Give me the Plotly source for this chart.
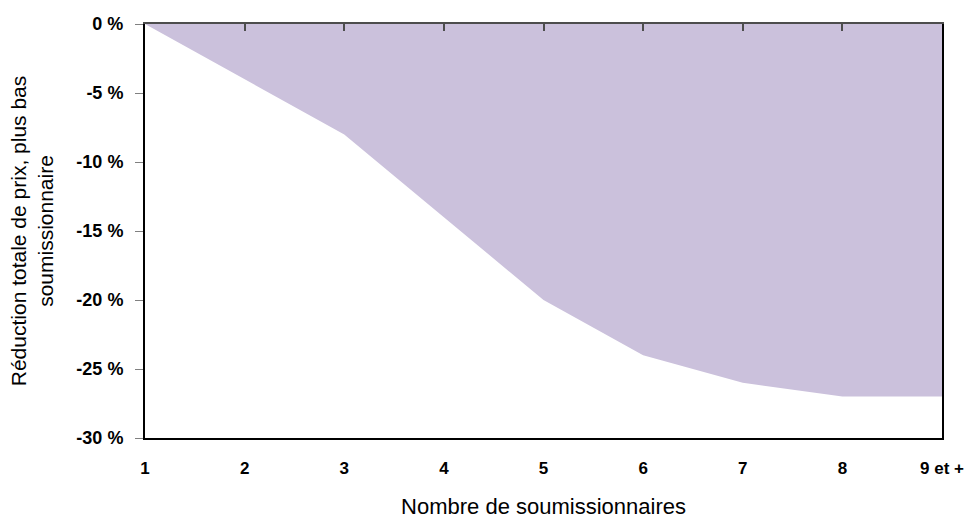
import plotly.graph_objects as go

categories = ["1", "2", "3", "4", "5", "6", "7", "8", "9 et +"]
reduction = [0, -4, -8, -14, -20, -24, -26, -27, -27]
y_ticks = [0, -5, -10, -15, -20, -25, -30]
y_tick_labels = ["0 %", "-5 %", "-10 %", "-15 %", "-20 %", "-25 %", "-30 %"]

_FILL = "#CBC1DC"
_FONT = "Liberation Sans, Arial, sans-serif"

fig = go.Figure()
fig.add_trace(
    go.Scatter(
        x=categories,
        y=reduction,
        mode="lines",
        fill="tozeroy",
        fillcolor=_FILL,
        line=dict(width=0, color=_FILL),
        showlegend=False,
        hoverinfo="skip",
    )
)
# invisible trace so the top (zero-line) category axis gets drawn
fig.add_trace(
    go.Scatter(
        x=categories,
        y=reduction,
        xaxis="x2",
        mode="lines",
        line=dict(width=0),
        opacity=0,
        showlegend=False,
        hoverinfo="skip",
    )
)

fig.update_layout(
    width=969,
    height=519,
    margin=dict(l=145, r=27, t=24, b=81),
    paper_bgcolor="white",
    plot_bgcolor="white",
    font=dict(family=_FONT, color="black"),
    xaxis=dict(
        type="category",
        range=[0, 8],
        automargin=False,
        showline=True,
        linecolor="black",
        linewidth=2,
        showgrid=False,
        zeroline=False,
        ticks="outside",
        ticklen=14,
        tickcolor="rgba(0,0,0,0)",
        tickfont=dict(size=17, weight="bold"),
        title=dict(text="Nombre de soumissionnaires", font=dict(size=22), standoff=22),
    ),
    xaxis2=dict(
        type="category",
        overlaying="x",
        matches="x",
        side="top",
        anchor="y",
        automargin=False,
        showline=True,
        linecolor="#4d4d4d",
        linewidth=2,
        showgrid=False,
        zeroline=False,
        ticks="inside",
        ticklen=7,
        tickwidth=2,
        tickcolor="#4d4d4d",
        showticklabels=False,
    ),
    yaxis=dict(
        range=[-30, 0],
        tickvals=y_ticks,
        ticktext=y_tick_labels,
        automargin=False,
        showline=True,
        linecolor="black",
        linewidth=2,
        mirror=True,
        layer="below traces",
        showgrid=False,
        zeroline=False,
        ticks="outside",
        ticklen=8,
        tickcolor="#808080",
        ticklabelstandoff=8,
        tickfont=dict(size=18, weight="bold"),
        title=dict(
            text="Réduction totale de prix, plus bas<br>soumissionnaire",
            font=dict(size=21),
            standoff=17,
        ),
    ),
)

# drop the default body margin so the figure fills the window exactly
fig.write_html(
    "out.html",
    config={"displayModeBar": False},
    post_script="document.body.style.margin='0';document.body.style.overflow='hidden';",
)
